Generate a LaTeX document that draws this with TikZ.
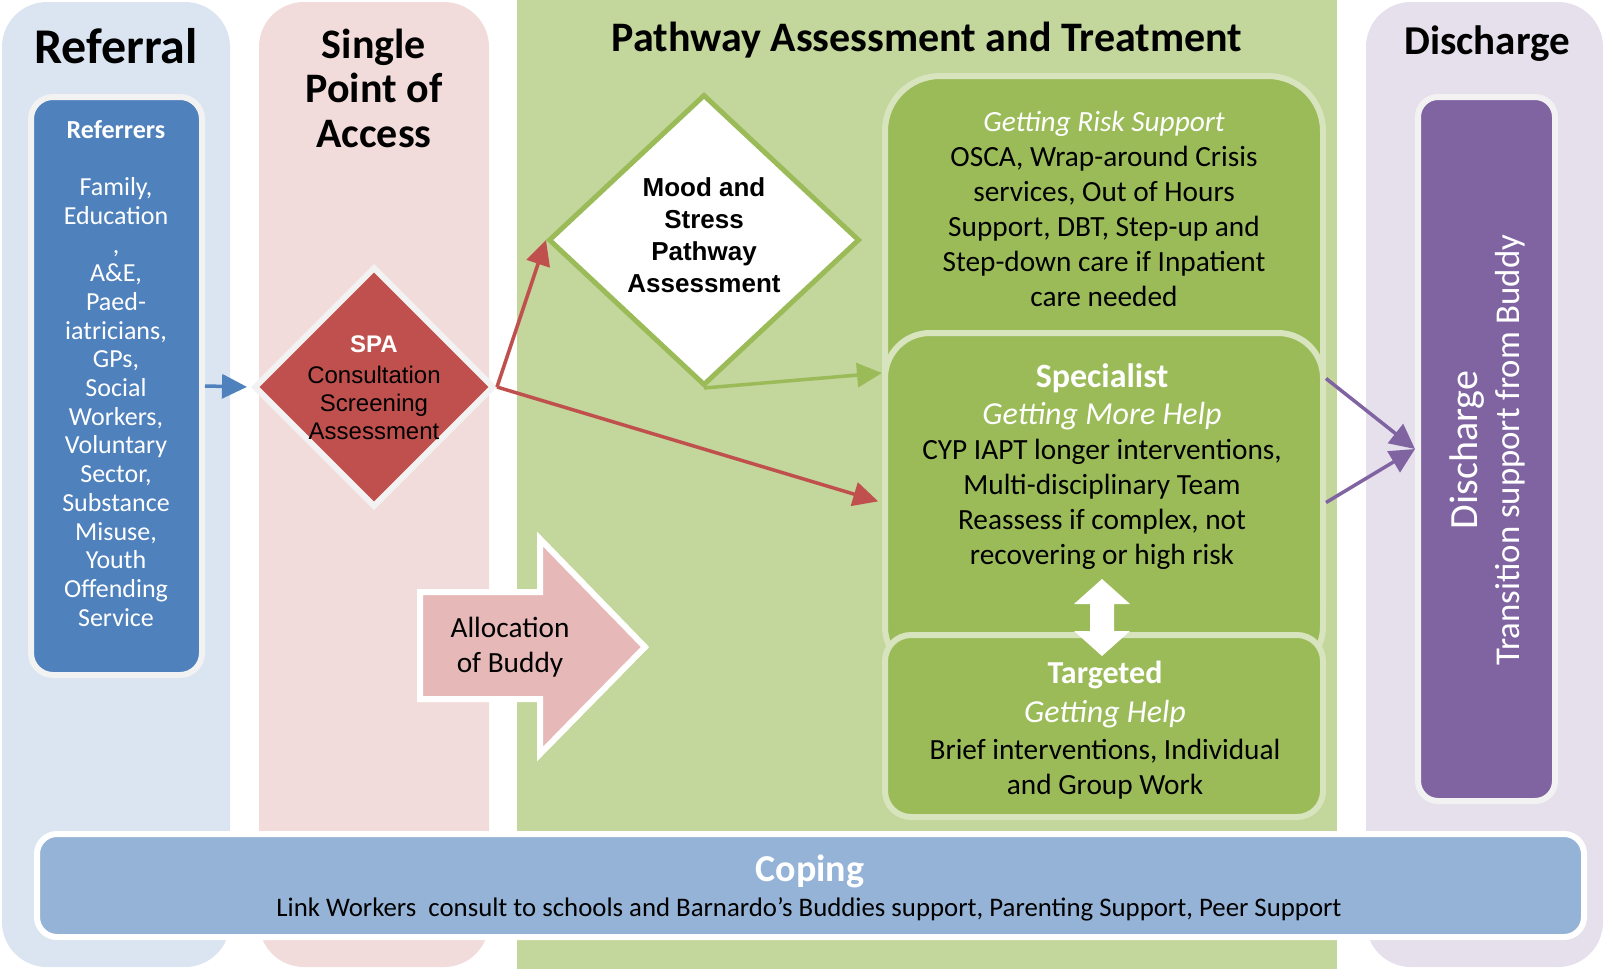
\documentclass[tikz,border=0pt]{standalone}
\usepackage{fontspec}
\setmainfont{Carlito}
\newfontfamily\arialFont{Liberation Sans}
\usepackage{tikz}
\usetikzlibrary{shapes.geometric,arrows.meta}

\definecolor{referralLane}{HTML}{DBE5F1}
\definecolor{accessLane}{HTML}{F2DCDB}
\definecolor{pathwayLane}{HTML}{C3D69B}
\definecolor{dischargeLane}{HTML}{E5E0EC}
\definecolor{referrerBlue}{HTML}{4F81BD}
\definecolor{spaRed}{HTML}{C0504D}
\definecolor{buddyPink}{HTML}{E6B9B8}
\definecolor{helpGreen}{HTML}{9BBB59}
\definecolor{helpRim}{HTML}{D7E4BD}
\definecolor{dischargePurple}{HTML}{8064A2}
\definecolor{copingBlue}{HTML}{95B3D7}
\definecolor{rimGrey}{HTML}{F2F2F2}

\newcommand{\fsize}[2]{\fontsize{#1}{#2}\selectfont}
\newcommand{\lane}[4]{
	\fill[#1, rounded corners=#4] (#2, 2) rectangle (#3, 967);
}
\newcommand{\helpBox}[4]{
	\node[helpbox, minimum height=#3, rounded corners=#4] (#1) at (1104, #2) {};
}

\tikzset{
	laneTitle/.style = {align=center, inner sep=0pt, text=black},
	rimBox/.style = {draw=rimGrey, line width=6pt},
	helpbox/.style = {draw=helpRim, fill=helpGreen, line width=6pt, minimum width=438pt},
	helpText/.style = {align=center, inner sep=0pt, font=\fsize{29.3}{35}},
	flowArrow/.style = {line width=3.5pt, -{Triangle[length=25pt, width=24pt]}},
}

\begin{document}
\begin{tikzpicture}[x=1pt, y=-1pt]%

		\useasboundingbox (0,0) rectangle (1605,969);

		% lanes
		\lane{referralLane}{2}{230}{45pt}
		\lane{accessLane}{259}{489}{45pt}
		\fill[pathwayLane] (517,0) rectangle (1337,969);
		\lane{dischargeLane}{1366}{1603}{45pt}

		% lane titles
		\node[laneTitle, font=\fsize{50}{52}\bfseries] (referralTitle) at (116,46) {Referral};
		\node[laneTitle, font=\fsize{42}{44.5}\bfseries] (accessTitle) at (374,88) {Single\\Point of\\Access};
		\node[laneTitle, font=\fsize{42}{44}\bfseries] (pathwayTitle) at (927,40) {Pathway Assessment and Treatment};
		\node[laneTitle, font=\fsize{41}{44}\bfseries] (dischargeTitle) at (1487,44) {Discharge};

		% referrers
		\node[rimBox, fill=referrerBlue, rounded corners=22pt, minimum width=171pt, minimum height=578pt] (referrers) at (116.5,386) {};
		\node[align=center, inner sep=0pt, anchor=north, text=white, font=\fsize{26}{28.7}] (referrerList) at (116,120)
			{{\bfseries Referrers}\\[28.7pt]Family,\\Education\\,\\A\&E,\\Paed-\\iatricians,\\GPs,\\Social\\Workers,\\Voluntary\\Sector,\\Substance\\Misuse,\\Youth\\Offending\\Service};

		% single point of access
		\node[rimBox, diamond, fill=spaRed, minimum width=240pt, minimum height=240pt] (spa) at (374,387) {};
		\node[align=center, inner sep=0pt, font=\arialFont\fsize{24}{28}] (spaText) at (374,388)
			{{\bfseries\color{white}SPA}\\[3pt]Consultation\\Screening\\Assessment};

		% allocation of buddy
		\draw[white, line width=6pt, fill=buddyPink, line join=miter]
			(420,592) -- (540,592) -- (540,539) -- (645,647) -- (540,754) -- (540,699) -- (420,699) -- cycle;
		\node[helpText] (buddyText) at (510,647) {Allocation\\of Buddy};

		% mood and stress
		\node[diamond, draw=helpGreen, line width=5pt, fill=white, minimum width=311pt, minimum height=291pt] (mood) at (704,240) {};
		\node[align=center, inner sep=0pt, font=\arialFont\bfseries\fsize{26}{32}] (moodText) at (704,235)
			{Mood and\\Stress\\Pathway\\Assessment};

		% levels of help
		\helpBox{risk}{369}{586pt}{55pt}
		\helpBox{specialist}{502.5}{339pt}{45pt}
		\helpBox{targeted}{726}{182pt}{26pt}

		\node[helpText] (riskText) at (1104,209)
			{{\itshape\color{white}Getting Risk Support}\\OSCA, Wrap-around Crisis\\services, Out of Hours\\Support, DBT, Step-up and\\Step-down care if Inpatient\\care needed};
		\node[helpText] (specialistText) at (1102,467)
			{{\fsize{34}{37}\bfseries\color{white}Specialist}\\[2pt]{\fsize{32}{36}\itshape\color{white}Getting More Help}\\CYP IAPT longer interventions,\\Multi-disciplinary Team\\Reassess if complex, not\\recovering or high risk};
		\node[helpText] (targetedText) at (1105,730)
			{{\fsize{32}{36}\bfseries\color{white}Targeted}\\[4pt]{\fsize{32}{36}\itshape\color{white}Getting Help}\\[2pt]Brief interventions, Individual\\and Group Work};

		\fill[white] (1102,579) -- (1130,604) -- (1114,604) -- (1114,631) -- (1130,631) -- (1102,656)
			-- (1074,631) -- (1090,631) -- (1090,604) -- (1074,604) -- cycle;

		% discharge
		\node[rimBox, fill=dischargePurple, rounded corners=20pt, minimum width=137pt, minimum height=704pt] (dischargeBox) at (1486.5,449) {};
		\node[align=center, inner sep=0pt, rotate=90, text=white, font=\fsize{34.8}{42}] (dischargeText) at (1487,450)
			{{\fsize{40}{42}Discharge}\\Transition support from Buddy};

		% coping
		\node[draw=white, line width=6pt, fill=copingBlue, rounded corners=20pt, minimum width=1547pt, minimum height=103pt] (coping) at (810.5,885.5) {};
		\node[laneTitle, text=white, font=\fsize{38}{40}\bfseries] (copingTitle) at (810,871) {Coping};
		\node[laneTitle, font=\fsize{26.8}{30}] (copingText) at (809,909)
			{Link Workers\ \ consult to schools and Barnardo’s Buddies support, Parenting Support, Peer Support};

		% connectors
		\coordinate (specEntry) at ([yshift=-43pt]specialist.north west);
		\coordinate (specExit) at ([yshift=124pt]specialist.east);
		\draw[flowArrow, referrerBlue, shorten >=4pt] (referrers.east) -- (spa.west);
		\draw[flowArrow, spaRed] (spa.east) -- (mood.west);
		\draw[flowArrow, spaRed, shorten >=4pt] (spa.east) -- (specialist.west);
		\draw[flowArrow, helpGreen] (mood.south) -- (specEntry);
		\draw[flowArrow, dischargePurple] (specExit) -- (dischargeBox.west);
		\draw[flowArrow, dischargePurple] (specialist.east) -- (dischargeBox.west);

	\end{tikzpicture}
\end{document}
